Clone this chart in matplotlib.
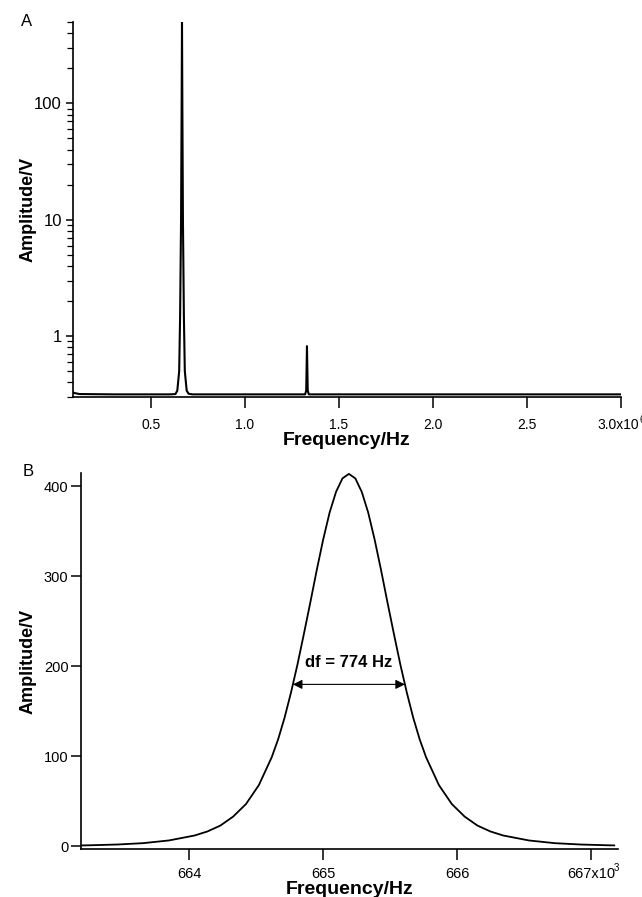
import matplotlib
matplotlib.use("Agg")
import matplotlib.pyplot as plt
from matplotlib.ticker import FixedLocator, FixedFormatter, LogLocator, NullFormatter

plt.rcParams['font.family'] = ['Liberation Sans', 'DejaVu Sans']

# panel A: full spectrum (frequency in MHz, amplitude in V, log scale)
freq_a = [0.085, 0.09, 0.12, 0.30, 0.60, 0.630, 0.640, 0.650, 0.655, 0.660,
          0.663, 0.665, 0.667, 0.670, 0.675, 0.680, 0.690, 0.700, 0.720,
          1.320, 1.326, 1.330, 1.334, 1.340, 3.0]
amp_a = [0.33, 0.325, 0.318, 0.316, 0.316, 0.318, 0.34, 0.5, 1.5, 10,
         90, 500, 90, 10, 1.5, 0.5, 0.34, 0.32, 0.316,
         0.316, 0.34, 0.82, 0.34, 0.316, 0.316]
xticks_a = [0.5, 1.0, 1.5, 2.0, 2.5, 3.0]
xlabels_a = ['0.5', '1.0', '1.5', '2.0', '2.5', '']
last_label_a, last_exp_a = '3.0x10', '6'
yticks_a = [1, 10, 100]
ylabels_a = ['1', '10', '100']

# panel B: zoom on the main resonance (frequency in kHz)
freq_b = [663.20, 663.27, 663.462, 663.654, 663.846, 664.038, 664.134, 664.23,
          664.326, 664.422, 664.518, 664.614, 664.662, 664.71, 664.758, 664.806,
          664.854, 664.902, 664.95, 664.998, 665.046, 665.094, 665.142, 665.19,
          665.238, 665.286, 665.334, 665.382, 665.43, 665.478, 665.526, 665.574,
          665.622, 665.67, 665.718, 665.766, 665.862, 665.958, 666.054, 666.15,
          666.246, 666.342, 666.534, 666.726, 666.918, 667.11, 667.17]
amp_b = [1.0, 1.2, 2.0, 3.5, 6.5, 12, 16.5, 23,
         33, 47, 68, 99, 119, 143, 171, 202,
         236, 271, 307, 341, 371, 394, 409, 414,
         409, 394, 371, 341, 307, 271, 236, 202,
         171, 143, 119, 99, 68, 47, 33, 23,
         16.5, 12, 6.5, 3.5, 2.0, 1.2, 1.0]
xticks_b = [664, 665, 666, 667]
xlabels_b = ['664', '665', '666', '667x10']
yticks_b = [0, 100, 200, 300, 400]
arrow_lo, arrow_hi, arrow_level = 664.772, 665.608, 180
df_text = 'df = 774 Hz'

fig = plt.figure(figsize=(6.42, 8.97), dpi=100)
ax_a = fig.add_axes([0.1137, 0.5574, 0.8533, 0.4181])
ax_b = fig.add_axes([0.126, 0.0535, 0.837, 0.4192])

for ax in (ax_a, ax_b):
    ax.spines['top'].set_visible(False)
    ax.spines['right'].set_visible(False)
    ax.spines['left'].set_linewidth(1.2)
    ax.spines['bottom'].set_linewidth(1.2)

# A
ax_a.plot(freq_a, amp_a, color='black', lw=1.5)
ax_a.set_yscale('log')
ax_a.set_xlim(0.085, 3.0)
ax_a.set_ylim(0.2999, 500)
ax_a.xaxis.set_major_locator(FixedLocator(xticks_a))
ax_a.xaxis.set_major_formatter(FixedFormatter(xlabels_a))
ax_a.yaxis.set_major_locator(FixedLocator(yticks_a))
ax_a.yaxis.set_major_formatter(FixedFormatter(ylabels_a))
ax_a.yaxis.set_minor_locator(LogLocator(base=10, subs=range(2, 10)))
ax_a.yaxis.set_minor_formatter(NullFormatter())
ax_a.tick_params(axis='x', direction='out', length=8, width=1.1, labelsize=10, pad=7)
ax_a.tick_params(axis='y', which='major', direction='out', length=5, width=1.1,
                 labelsize=12, pad=3)
ax_a.tick_params(axis='y', which='minor', direction='out', length=4, width=0.9)
ax_a.set_xlabel('Frequency/Hz', fontsize=14, fontweight='bold')
ax_a.xaxis.set_label_coords(0.5, -0.093)
ax_a.set_ylabel('Amplitude/V', fontsize=13, fontweight='bold')
ax_a.yaxis.set_label_coords(-0.066, 0.5)
# last x label of A sits a little left of its tick, exponent at the edge
ax_a.annotate(last_label_a, xy=(xticks_a[-1], 0), xycoords=ax_a.get_xaxis_transform(),
              xytext=(-2.2, -15), textcoords='offset points',
              ha='center', va='top', fontsize=10, annotation_clip=False)
ax_a.annotate(last_exp_a, xy=(xticks_a[-1], 0), xycoords=ax_a.get_xaxis_transform(),
              xytext=(13.2, -13), textcoords='offset points',
              ha='left', va='top', fontsize=7, annotation_clip=False)

# B
ax_b.plot(freq_b, amp_b, color='black', lw=1.3)
ax_b.set_xlim(663.19, 667.2)
ax_b.set_ylim(-3, 415)
ax_b.xaxis.set_major_locator(FixedLocator(xticks_b))
ax_b.xaxis.set_major_formatter(FixedFormatter(xlabels_b))
ax_b.set_yticks(yticks_b)
ax_b.tick_params(axis='x', direction='out', length=8, width=1.1, labelsize=10.5, pad=5)
ax_b.tick_params(axis='y', direction='out', length=7, width=1.1, labelsize=10.5, pad=2)
ax_b.set_xlabel('Frequency/Hz', fontsize=14, fontweight='bold')
ax_b.xaxis.set_label_coords(0.5, -0.085)
ax_b.set_ylabel('Amplitude/V', fontsize=13, fontweight='bold')
ax_b.yaxis.set_label_coords(-0.082, 0.5)
ax_b.annotate('3', xy=(xticks_b[-1], 0), xycoords=ax_b.get_xaxis_transform(),
              xytext=(16, -10), textcoords='offset points',
              ha='left', va='top', fontsize=7, annotation_clip=False)

ax_b.annotate('', xy=(arrow_lo, arrow_level), xytext=(arrow_hi, arrow_level),
              arrowprops=dict(arrowstyle='<|-|>', color='black', lw=0.8,
                              mutation_scale=14, shrinkA=0, shrinkB=0))
ax_b.text((arrow_lo + arrow_hi) / 2, arrow_level + 24, df_text,
          ha='center', va='center', fontsize=12, fontweight='bold')

fig.text(27 / 642, 1 - 21 / 897, 'A', fontsize=12, ha='center', va='center')
fig.text(28 / 642, 1 - 472 / 897, 'B', fontsize=12, ha='center', va='center')

fig.savefig('out.png', dpi=100)
